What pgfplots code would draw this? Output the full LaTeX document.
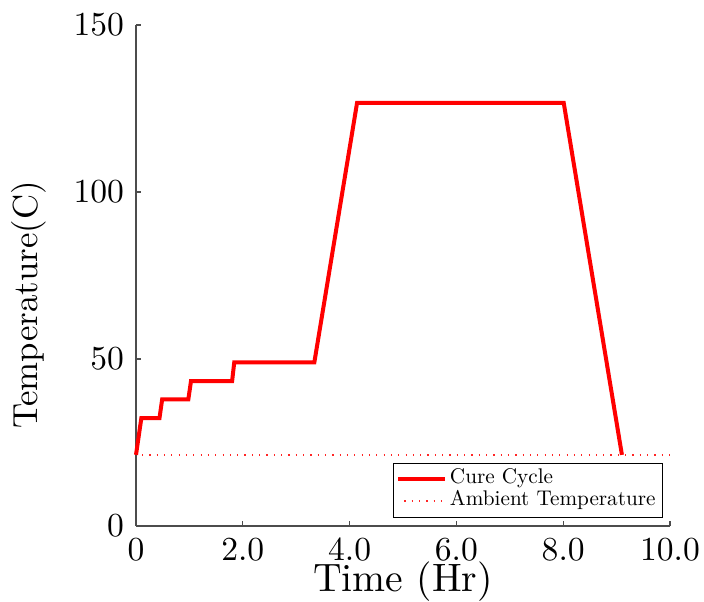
\documentclass[border=0pt]{standalone}
\usepackage{pgfplots}
\pgfplotsset{compat=1.18}
% Latin Modern at its 10pt design size for every size
\DeclareFontFamily{TU}{lmten}{}
\DeclareFontShape{TU}{lmten}{m}{n}{<-> "[lmroman10-regular]:mapping=tex-text;"}{}
\DeclareRobustCommand\lmf[1]{\fontfamily{lmten}\fontsize{#1}{#1}\selectfont}
\begin{document}
\begin{tikzpicture}
\begin{axis}[
  scale only axis,
  width=133.5pt, height=125.25pt,
  xmin=0, xmax=10, ymin=0, ymax=150,
  axis lines*=left,
  axis line style={black!70, line width=0.35pt},
  tick align=inside,
  major tick length=1.25pt,
  tick style={black!70, line width=0.3pt},
  xtick={0,2,4,6,8,10},
  xticklabels={0,2.0,4.0,6.0,8.0,10.0},
  ytick={0,50,100,150},
  /pgf/number format/assume math mode=true,
  tick label style={font=\lmf{8.4}},
  xticklabel style={inner sep=0pt, yshift=-2.8pt},
  yticklabel style={inner sep=0pt, xshift=-2.8pt},
  xlabel={Time (Hr)},
  ylabel={Temperature(C)},
  xlabel style={font=\lmf{9.9}, inner sep=0pt, at={(rel axis cs:0.5,-0.1317)}, anchor=base},
  ylabel style={font=\lmf{8.7}, inner sep=0pt, at={(rel axis cs:-0.184,0.441)}, anchor=base},
  clip=false,
  legend style={at={(0.986,0.0166)}, anchor=south east,
    font=\lmf{5.3}, draw=black, line width=0.25pt,
    inner xsep=0.8pt, inner ysep=1.1pt, nodes={inner xsep=0.8pt, inner ysep=0.2pt},
    cells={anchor=west}},
  legend image code/.code={\draw[#1] (0pt,0pt) -- (11.6pt,0pt);},
]
% cure cycle
\addplot[red, line width=1pt] coordinates {
  (0,21.3) (0.1,32.3) (0.44,32.3) (0.49,37.9) (0.98,37.9) (1.03,43.4)
  (1.8,43.4) (1.84,49) (3.34,49) (4.14,126.7) (8.01,126.7) (9.1,21.3)
};
\addlegendentry{Cure Cycle}
% ambient
\addplot[red!85, line width=0.5pt, dash pattern=on 0.3pt off 1.53pt, dash phase=-1.5pt] coordinates {
  (0,21.3) (10,21.3)
};
\addlegendentry{Ambient Temperature}
\coordinate (bl) at (rel axis cs:-0.2547,-0.1517);
\coordinate (tr) at (rel axis cs:1.0637,1.0499);
\end{axis}
\pgfresetboundingbox
\path[use as bounding box] (bl) rectangle (tr);
\end{tikzpicture}
\end{document}
